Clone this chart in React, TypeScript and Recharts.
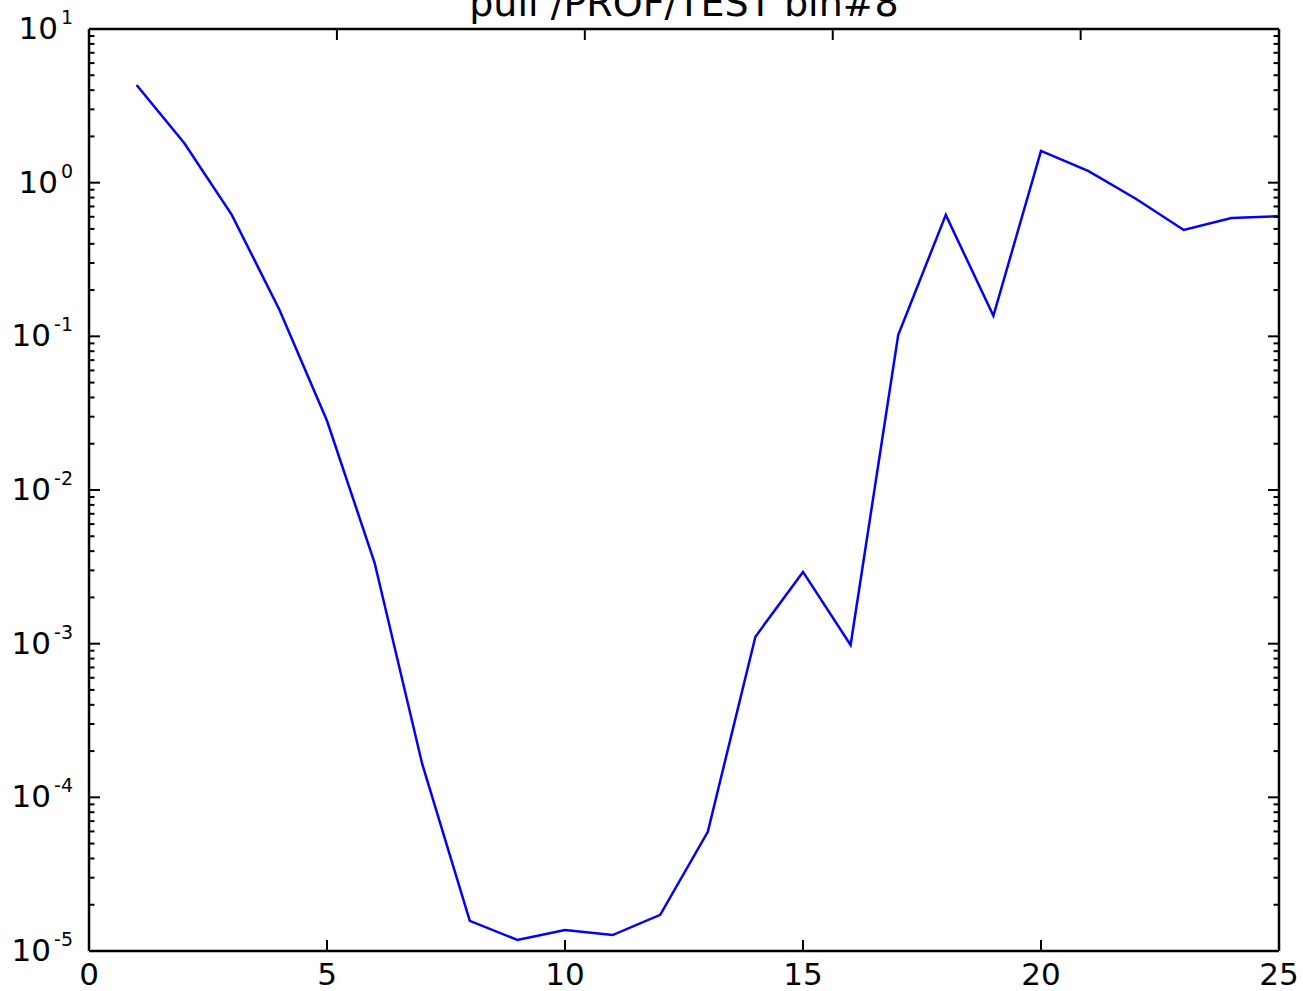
import { Line, LineChart, XAxis, YAxis } from "recharts";

const FONT = "DejaVu Sans";
const BLUE = "#0000ff";

const TITLE = "pull /PROF/TEST bin#8";
const STEPS = [1, 2, 3, 4, 5, 6, 7, 8, 9, 10, 11, 12, 13, 14, 15, 16, 17, 18, 19, 20, 21, 22, 23, 24, 25];
const PULL = [
  4.32, 1.81, 0.617, 0.149, 0.0282, 0.00336, 1.65e-4, 1.57e-5, 1.18e-5, 1.37e-5, 1.27e-5, 1.72e-5, 5.97e-5,
  1.11e-3, 2.93e-3, 0.98e-3, 0.102, 0.617, 0.136, 1.61, 1.19, 0.783, 0.492, 0.589, 0.605,
];
const X_TICKS = [0, 5, 10, 15, 20, 25];
const Y_MAJOR = [1e-5, 1e-4, 1e-3, 1e-2, 1e-1, 1e0, 1e1];
const Y_EXPONENTS = ["-5", "-4", "-3", "-2", "-1", "0", "1"];
const MINOR_MULT = [2, 3, 4, 5, 6, 7, 8, 9];

const Y_MINOR = Y_MAJOR.slice(0, -1).flatMap((d) => MINOR_MULT.map((m) => m * d));
const Y_TICKS = [...Y_MAJOR, ...Y_MINOR];

const data = STEPS.map((s, i) => ({ step: s, pull: PULL[i] }));

// plot frame (matches chart margins / axis sizes below)
const W = 1303;
const H = 991;
const LEFT = 89;
const RIGHT = 1279;
const TOP = 29;
const BOTTOM = 951;

const majorIndex = (v: number) => Y_MAJOR.findIndex((m) => Math.abs(v / m - 1) < 1e-6);

function LeftTick(props: any) {
  const { y, payload } = props;
  const idx = majorIndex(payload.value);
  const major = idx >= 0;
  return (
    <g>
      <line x1={LEFT} x2={LEFT + (major ? 11 : 5.5)} y1={y} y2={y} stroke="#000" strokeWidth={2} />
      {major && (
        <text x={73} y={y + 10} textAnchor="end" fontFamily={FONT} fill="#000">
          <tspan fontSize={31}>10</tspan>
          <tspan fontSize={19} dx={3} dy={-15}>
            {Y_EXPONENTS[idx]}
          </tspan>
        </text>
      )}
    </g>
  );
}

function RightTick(props: any) {
  const { y, payload } = props;
  const major = majorIndex(payload.value) >= 0;
  return <line x1={RIGHT} x2={RIGHT - (major ? 11 : 5.5)} y1={y} y2={y} stroke="#000" strokeWidth={2} />;
}

function BottomTick(props: any) {
  const { x, payload } = props;
  return (
    <g>
      <line x1={x} x2={x} y1={BOTTOM} y2={BOTTOM - 11} stroke="#000" strokeWidth={2} />
      <text x={x} y={BOTTOM + 34} textAnchor="middle" fontFamily={FONT} fontSize={31} fill="#000">
        {payload.value}
      </text>
    </g>
  );
}

function TopTick(props: any) {
  const { x } = props;
  return <line x1={x} x2={x} y1={TOP} y2={TOP + 11} stroke="#000" strokeWidth={2} />;
}

const axisLine = { stroke: "#000", strokeWidth: 2.5 };

export default function App() {
  return (
    <div style={{ position: "absolute", left: 0, top: 0, width: W, height: H, background: "#fff" }}>
      <LineChart
        width={W}
        height={H}
        data={data}
        margin={{ top: TOP - 1, right: W - RIGHT - 1, bottom: 0, left: 0 }}
      >
        <XAxis
          xAxisId="b"
          dataKey="step"
          type="number"
          domain={[0, 25]}
          ticks={X_TICKS}
          interval={0}
          height={H - BOTTOM}
          tickSize={0}
          tickMargin={0}
          tickLine={false}
          axisLine={axisLine}
          tick={<BottomTick />}
        />
        <XAxis
          xAxisId="t"
          orientation="top"
          type="number"
          domain={[0, 25]}
          ticks={X_TICKS}
          interval={0}
          height={1}
          tickSize={0}
          tickMargin={0}
          tickLine={false}
          axisLine={axisLine}
          tick={<TopTick />}
          allowDataOverflow
        />
        <YAxis
          yAxisId="l"
          scale="log"
          domain={[1e-5, 10]}
          allowDataOverflow
          ticks={Y_TICKS}
          interval={0}
          width={LEFT}
          tickSize={0}
          tickMargin={0}
          tickLine={false}
          axisLine={axisLine}
          tick={<LeftTick />}
        />
        <YAxis
          yAxisId="r"
          orientation="right"
          scale="log"
          domain={[1e-5, 10]}
          allowDataOverflow
          ticks={Y_TICKS}
          interval={0}
          width={1}
          tickSize={0}
          tickMargin={0}
          tickLine={false}
          axisLine={axisLine}
          tick={<RightTick />}
        />
        <Line
          xAxisId="b"
          yAxisId="l"
          type="linear"
          dataKey="pull"
          stroke={BLUE}
          strokeWidth={2.5}
          dot={false}
          isAnimationActive={false}
        />
      </LineChart>
      <svg width={W} height={40} style={{ position: "absolute", left: 0, top: 0 }}>
        <text x={(LEFT + RIGHT) / 2} y={16} textAnchor="middle" fontFamily={FONT} fontSize={38} fill="#000">
          {TITLE}
        </text>
      </svg>
    </div>
  );
}
